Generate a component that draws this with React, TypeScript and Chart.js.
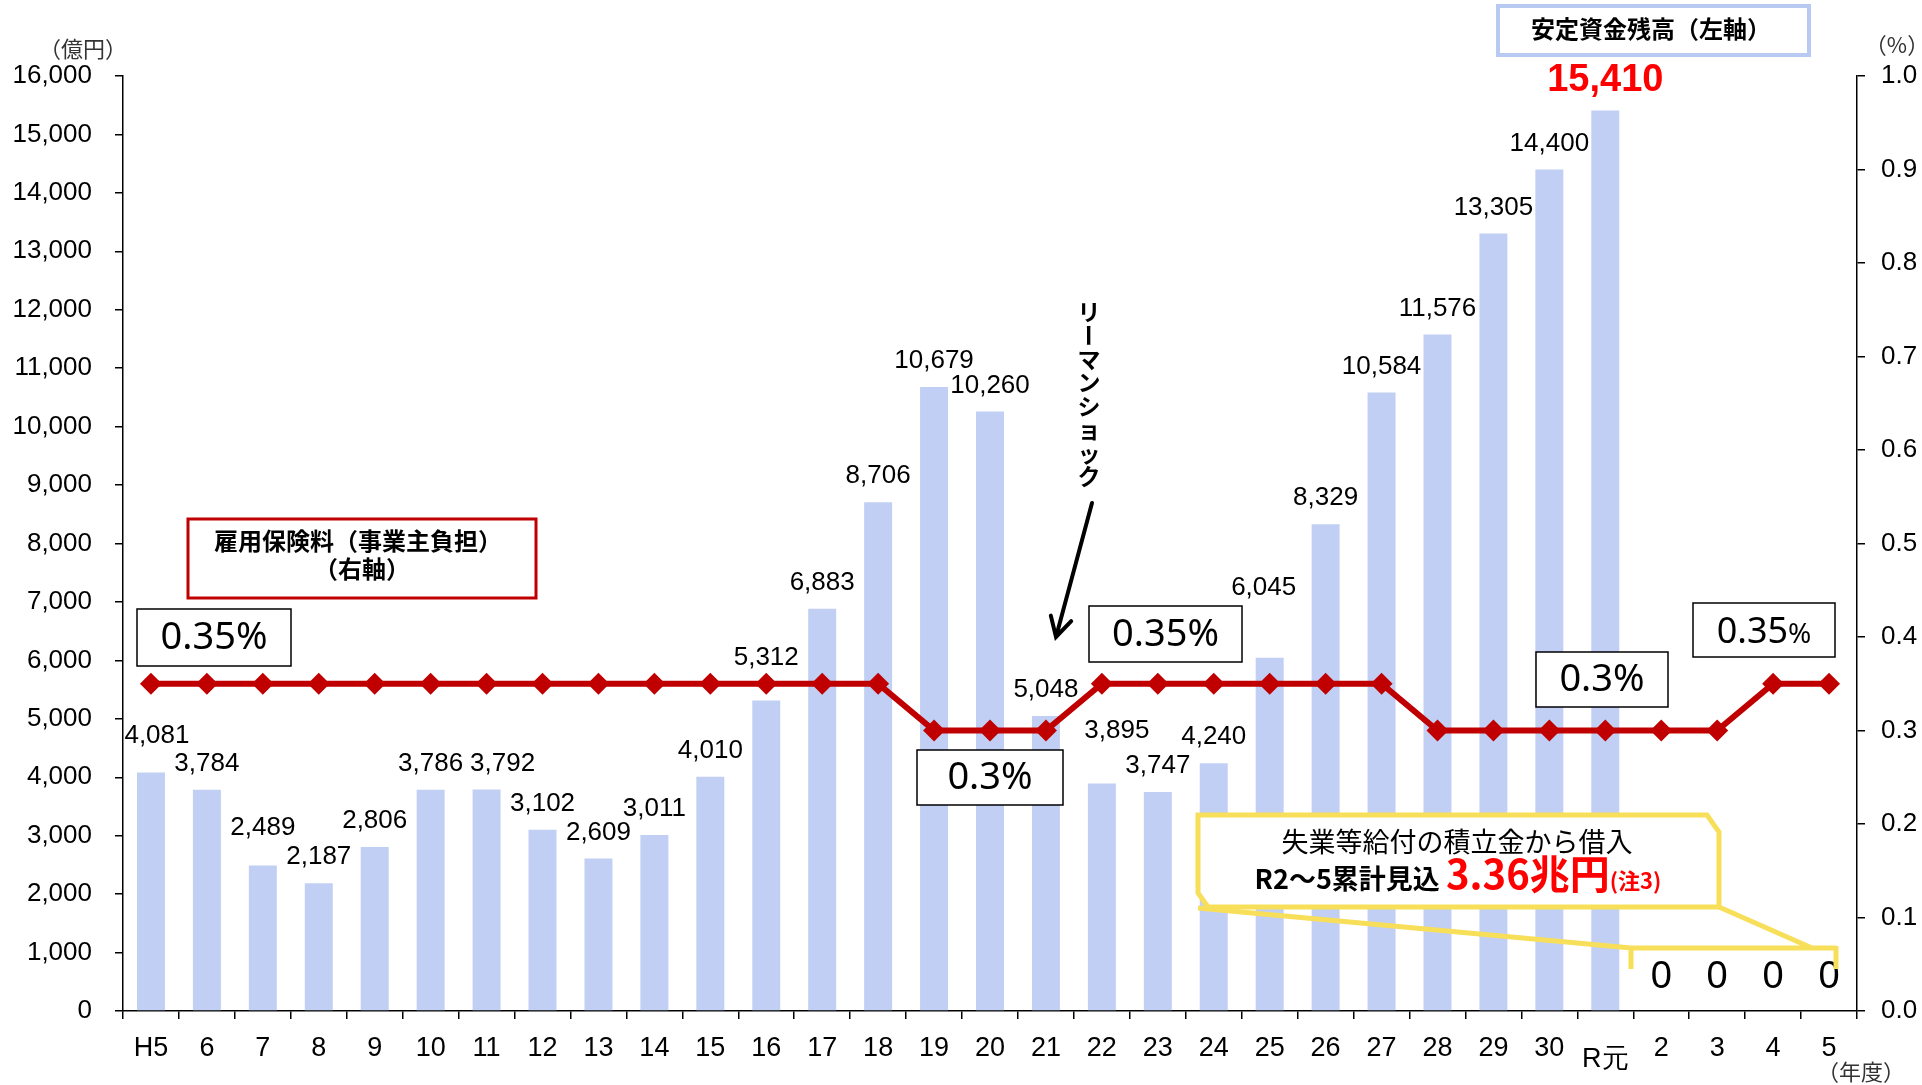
import React, { useEffect, useRef } from 'react';
import { Chart, registerables } from 'chart.js';

Chart.register(...registerables);

// ---------------- data ----------------
const fiscalYears = ['H5', '6', '7', '8', '9', '10', '11', '12', '13', '14', '15', '16', '17', '18', '19', '20', '21', '22', '23', '24', '25', '26', '27', '28', '29', '30', 'R元', '2', '3', '4', '5'];
const reserveBalance = [4081, 3784, 2489, 2187, 2806, 3786, 3792, 3102, 2609, 3011, 4010, 5312, 6883, 8706, 10679, 10260, 5048, 3895, 3747, 4240, 6045, 8329, 10584, 11576, 13305, 14400, 15410, 0, 0, 0, 0];
const employerRate = [0.35, 0.35, 0.35, 0.35, 0.35, 0.35, 0.35, 0.35, 0.35, 0.35, 0.35, 0.35, 0.35, 0.35, 0.3, 0.3, 0.3, 0.35, 0.35, 0.35, 0.35, 0.35, 0.35, 0.3, 0.3, 0.3, 0.3, 0.3, 0.3, 0.35, 0.35];
const leftAxisMax = 16000;
const leftAxisStep = 1000;
const rightAxisMax = 1.0;
const rightAxisStep = 0.1;

// ---------------- styles ----------------
const LATIN = '"Liberation Sans", Arial, sans-serif';
const JP = '"Noto Sans CJK JP", "Noto Sans", sans-serif';
const ROUND = '"Noto Sans", "DejaVu Sans", sans-serif';
const BAR_COLOR = '#C1CFF4';
const LINE_COLOR = '#C00000';
const YELLOW = '#F8DF5A';

// label nudges (dx, dy) for a few data labels that are moved off the line
const labelNudge: Record<number, [number, number]> = {
  0: [6, -11],
  2: [0, -12],
  6: [16, 0],
  11: [0, -17],
  17: [15, -27],
  20: [-6, -44],
};

const barLabelPlugin = {
  id: 'barLabels',
  afterDatasetsDraw(chart: any) {
    const meta = chart.getDatasetMeta(1);
    const ctx = chart.ctx;
    ctx.save();
    ctx.textAlign = 'center';
    ctx.textBaseline = 'middle';
    meta.data.forEach((el: any, i: number) => {
      const v = reserveBalance[i];
      const [dx, dy] = labelNudge[i] || [0, 0];
      let off = 26;
      if (i === reserveBalance.length - 5) {
        ctx.font = `bold 38px ${LATIN}`;
        ctx.fillStyle = '#FF0000';
        off = 30;
      } else if (v === 0) {
        ctx.font = `38px ${LATIN}`;
        ctx.fillStyle = '#000';
        off = 33;
      } else {
        ctx.font = `26px ${LATIN}`;
        ctx.fillStyle = '#000';
      }
      ctx.fillText(v.toLocaleString('en-US'), el.x + dx, el.y - off + dy);
    });
    ctx.restore();
  },
};

function boxRect(ctx: CanvasRenderingContext2D, x: number, y: number, w: number, h: number, stroke: string, lw: number) {
  ctx.fillStyle = '#fff';
  ctx.fillRect(x, y, w, h);
  ctx.lineWidth = lw;
  ctx.strokeStyle = stroke;
  ctx.strokeRect(x, y, w, h);
}

const annotationPlugin = {
  id: 'annotations',
  afterDraw(chart: any) {
    const ctx: CanvasRenderingContext2D = chart.ctx;
    ctx.save();

    // axis unit labels
    ctx.fillStyle = '#333';
    ctx.textAlign = 'center';
    ctx.textBaseline = 'middle';
    ctx.font = `22px ${JP}`;
    ctx.fillText('（億円）', 83, 49);
    ctx.fillText('（%）', 1897, 45);
    ctx.fillText('（年度）', 1861, 1072);

    // stock title box
    boxRect(ctx, 1498, 6, 311, 49, '#B9CAF2', 4);
    ctx.fillStyle = '#000';
    ctx.font = `bold 24px ${JP}`;
    ctx.fillText('安定資金残高（左軸）', 1651, 29);

    // premium title box
    boxRect(ctx, 188, 519, 348, 79, '#C00000', 3);
    ctx.fillStyle = '#000';
    ctx.font = `bold 24px ${JP}`;
    ctx.fillText('雇用保険料（事業主負担）', 358, 541);
    ctx.fillText('（右軸）', 362, 569);

    // rate boxes
    const rateBox = (x: number, y: number, w: number, h: number, t: string) => {
      boxRect(ctx, x, y, w, h, '#000', 1.5);
      ctx.fillStyle = '#000';
      ctx.font = `38px ${ROUND}`;
      ctx.fillText(t, x + w / 2, y + h / 2 + 1);
    };
    rateBox(137, 609, 154, 57, '0.35%');
    rateBox(1089, 606, 153, 56, '0.35%');
    rateBox(917, 750, 146, 55, '0.3%');
    rateBox(1536, 652, 132, 55, '0.3%');
    // box with small %
    boxRect(ctx, 1693, 603, 142, 54, '#000', 1.5);
    ctx.fillStyle = '#000';
    ctx.font = `36px ${ROUND}`;
    const w1 = ctx.measureText('0.35').width;
    ctx.font = `28px ${ROUND}`;
    const w2 = ctx.measureText('%').width;
    const sx = 1764 - (w1 + w2) / 2;
    ctx.textAlign = 'left';
    ctx.textBaseline = 'alphabetic';
    ctx.font = `36px ${ROUND}`;
    ctx.fillText('0.35', sx, 643);
    ctx.font = `28px ${ROUND}`;
    ctx.fillText('%', sx + w1, 643);

    // Lehman shock vertical text
    ctx.fillStyle = '#000';
    ctx.textAlign = 'center';
    ctx.textBaseline = 'middle';
    ctx.font = `bold 23px ${JP}`;
    const chars = Array.from('リーマンショック');
    chars.forEach((c, i) => {
      const cy = 312 + i * 23.5;
      if (c === 'ー') {
        ctx.save();
        ctx.translate(1089, cy);
        ctx.rotate(Math.PI / 2);
        ctx.fillText(c, 0, 0);
        ctx.restore();
      } else {
        ctx.fillText(c, 1089, cy);
      }
    });
    // arrow
    const ax0 = 1092, ay0 = 503, ax1 = 1056, ay1 = 637;
    ctx.strokeStyle = '#000';
    ctx.lineWidth = 4;
    ctx.lineCap = 'round';
    ctx.beginPath();
    ctx.moveTo(ax0, ay0);
    ctx.lineTo(ax1, ay1);
    const ang = Math.atan2(ay0 - ay1, ax0 - ax1);
    const hl = 22;
    ctx.moveTo(ax1 + hl * Math.cos(ang + 0.5), ay1 + hl * Math.sin(ang + 0.5));
    ctx.lineTo(ax1, ay1);
    ctx.lineTo(ax1 + hl * Math.cos(ang - 0.5), ay1 + hl * Math.sin(ang - 0.5));
    ctx.stroke();

    // yellow callout
    ctx.lineCap = 'butt';
    ctx.lineJoin = 'miter';
    ctx.strokeStyle = YELLOW;
    ctx.lineWidth = 5;
    ctx.beginPath();
    ctx.moveTo(1198, 815);
    ctx.lineTo(1707, 815);
    ctx.lineTo(1719, 832);
    ctx.lineTo(1719, 907);
    ctx.lineTo(1208, 907);
    ctx.lineTo(1198, 893);
    ctx.closePath();
    ctx.fillStyle = '#fff';
    ctx.fill();
    ctx.stroke();
    ctx.beginPath();
    ctx.moveTo(1198, 908);
    ctx.lineTo(1631, 948);
    ctx.lineTo(1836, 948);
    ctx.moveTo(1719, 907);
    ctx.lineTo(1812, 948);
    ctx.moveTo(1631, 946);
    ctx.lineTo(1631, 969);
    ctx.moveTo(1836, 946);
    ctx.lineTo(1836, 969);
    ctx.stroke();

    ctx.fillStyle = '#000';
    ctx.textAlign = 'center';
    ctx.textBaseline = 'middle';
    ctx.font = `27px ${JP}`;
    ctx.fillText('失業等給付の積立金から借入', 1457, 842);

    const parts: [string, string, string][] = [
      ['R2～5累計見込 ', `bold 27px ${JP}`, '#000'],
      ['3.36兆円', `bold 40px ${JP}`, '#FF0000'],
      ['(注3)', `bold 22px ${JP}`, '#FF0000'],
    ];
    let total = 0;
    parts.forEach(([t, f]) => { ctx.font = f; total += ctx.measureText(t).width; });
    let px = 1458 - total / 2;
    ctx.textAlign = 'left';
    ctx.textBaseline = 'alphabetic';
    parts.forEach(([t, f, c]) => {
      ctx.font = f;
      ctx.fillStyle = c;
      ctx.fillText(t, px, 889);
      px += ctx.measureText(t).width;
    });

    ctx.restore();
  },
};

export default function App() {
  const ref = useRef<HTMLCanvasElement>(null);

  useEffect(() => {
    if (!ref.current) return;
    const chart = new Chart(ref.current, {
      type: 'bar',
      data: {
        labels: fiscalYears,
        datasets: [
          {
            type: 'line',
            label: '雇用保険料（事業主負担）',
            data: employerRate,
            yAxisID: 'y1',
            borderColor: LINE_COLOR,
            backgroundColor: LINE_COLOR,
            borderWidth: 6,
            pointStyle: 'rectRot',
            pointRadius: 11,
            pointBackgroundColor: LINE_COLOR,
            pointBorderColor: LINE_COLOR,
            pointBorderWidth: 0,
            tension: 0,
            order: 0,
          } as any,
          {
            type: 'bar',
            label: '安定資金残高',
            data: reserveBalance,
            yAxisID: 'y',
            backgroundColor: BAR_COLOR,
            barPercentage: 0.5,
            categoryPercentage: 1.0,
            order: 1,
          } as any,
        ],
      },
      options: {
        responsive: false,
        animation: false,
        devicePixelRatio: 1,
        layout: { padding: { top: 76, left: 0, right: 0, bottom: 0 } },
        plugins: { legend: { display: false }, tooltip: { enabled: false } },
        scales: {
          x: {
            grid: { display: true, drawOnChartArea: false, drawTicks: true, tickLength: 8, color: '#000', lineWidth: 1.5, offset: true },
            border: { display: true, color: '#000', width: 1.5 },
            ticks: {
              color: '#000',
              font: (c: any) => ({ family: LATIN, size: 27, lineHeight: fiscalYears[c.index] === 'R元' ? 0.67 : 1.2 }),
              autoSkip: false,
              maxRotation: 0,
              padding: 13,
              callback: (_v: any, i: number) => (fiscalYears[i] === 'R元' ? ['', 'R元'] : fiscalYears[i]),
            },
            afterFit: (s: any) => { s.height = 74; },
          },
          y: {
            position: 'left',
            min: 0,
            max: leftAxisMax,
            grid: { display: true, drawOnChartArea: false, drawTicks: true, tickLength: 8, color: '#000', lineWidth: 1.5 },
            border: { display: true, color: '#000', width: 1.5 },
            ticks: {
              stepSize: leftAxisStep,
              color: '#000',
              font: { family: LATIN, size: 26 },
              padding: 23,
              callback: (v: any) => Number(v).toLocaleString('en-US'),
            },
            afterFit: (s: any) => { s.width = 123; },
          },
          y1: {
            position: 'right',
            min: 0,
            max: rightAxisMax,
            grid: { display: true, drawOnChartArea: false, drawTicks: true, tickLength: 8, color: '#000', lineWidth: 1.5 },
            border: { display: true, color: '#000', width: 1.5 },
            ticks: {
              stepSize: rightAxisStep,
              color: '#000',
              font: { family: LATIN, size: 26 },
              padding: 16,
              callback: (v: any) => Number(v).toFixed(1),
            },
            afterFit: (s: any) => { s.width = 65; },
          },
        },
      } as any,
      plugins: [barLabelPlugin, annotationPlugin],
    });
    return () => chart.destroy();
  }, []);

  return (
    <div style={{ position: 'absolute', left: 0, top: 0, width: 1922, height: 1085, background: '#fff' }}>
      <canvas ref={ref} width={1922} height={1085} style={{ display: 'block' }} />
    </div>
  );
}
